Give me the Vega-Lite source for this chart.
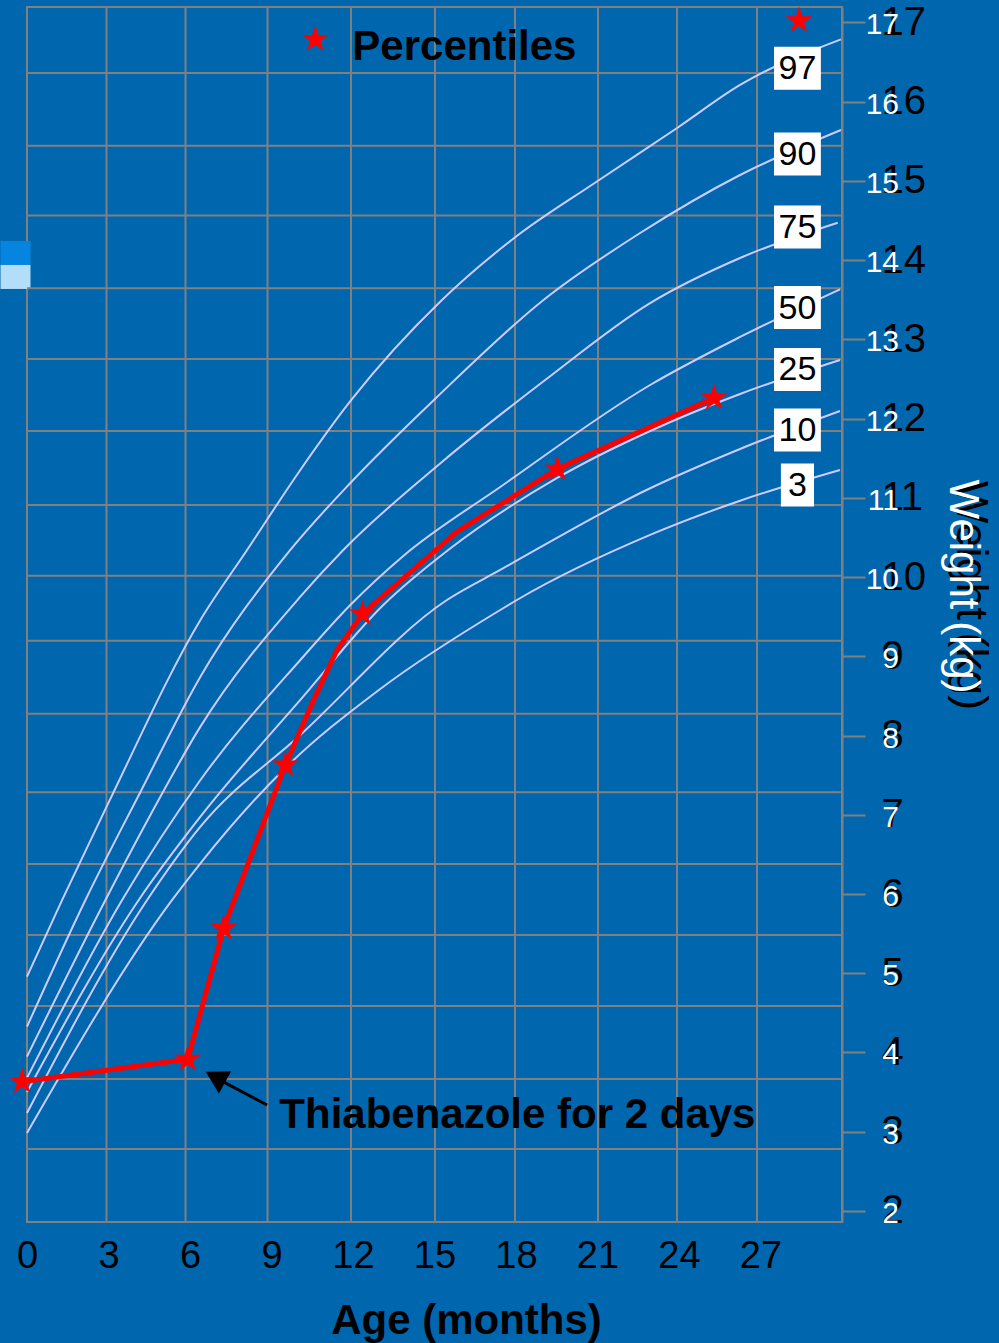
{
  "$schema": "https://vega.github.io/schema/vega-lite/v6.json",
  "width": 815,
  "height": 1215,
  "autosize": "none",
  "padding": {"left": 27, "top": 7, "right": 157, "bottom": 121},
  "background": "#0066ae",
  "config": {"font": "Liberation Sans", "view": {"stroke": "#808080", "strokeWidth": 2}},
  "datasets": {
    "panel": [
      {"part": "a", "m": -0.975, "m2": 0.129, "kg": 14.24, "kg2": 13.938},
      {"part": "b", "m": -0.975, "m2": 0.129, "kg": 13.938, "kg2": 13.635}
    ],
    "hgrid": [
      {"kg": 16.36}, {"kg": 15.443}, {"kg": 14.563}, {"kg": 13.644}, {"kg": 12.751}, {"kg": 11.843},
      {"kg": 10.909}, {"kg": 10.017}, {"kg": 9.197}, {"kg": 8.276}, {"kg": 7.284}, {"kg": 6.379},
      {"kg": 5.483}, {"kg": 4.587}, {"kg": 3.667}, {"kg": 2.783}
    ],
    "vgrid": [
      {"m": 2.926}, {"m": 5.834}, {"m": 8.853}, {"m": 11.926}, {"m": 15.018}, {"m": 17.963}, {"m": 21.018}, {"m": 23.926}, {"m": 26.871}
    ],
    "curves": [
      {"p": "97", "m": 0, "kg": 4.957}, {"p": "97", "m": 1.295, "kg": 5.925}, {"p": "97", "m": 2.961, "kg": 7.124},
      {"p": "97", "m": 6.383, "kg": 9.458}, {"p": "97", "m": 8.101, "kg": 10.341}, {"p": "97", "m": 10.061, "kg": 11.351},
      {"p": "97", "m": 11.937, "kg": 12.234}, {"p": "97", "m": 15.274, "kg": 13.496}, {"p": "97", "m": 17.934, "kg": 14.278},
      {"p": "97", "m": 20.951, "kg": 14.985}, {"p": "97", "m": 23.931, "kg": 15.666}, {"p": "97", "m": 26.248, "kg": 16.209},
      {"p": "97", "m": 29.963, "kg": 16.785},
      {"p": "90", "m": 0, "kg": 4.326}, {"p": "90", "m": 2.152, "kg": 5.925}, {"p": "90", "m": 4.175, "kg": 7.288},
      {"p": "90", "m": 6.383, "kg": 8.743}, {"p": "90", "m": 9.693, "kg": 10.341}, {"p": "90", "m": 11.937, "kg": 11.199},
      {"p": "90", "m": 15.054, "kg": 12.259}, {"p": "90", "m": 19.012, "kg": 13.496}, {"p": "90", "m": 22.569, "kg": 14.341},
      {"p": "90", "m": 26.248, "kg": 15.073}, {"p": "90", "m": 29.963, "kg": 15.641},
      {"p": "75", "m": 0, "kg": 3.948}, {"p": "75", "m": 2.888, "kg": 5.925}, {"p": "75", "m": 4.543, "kg": 6.997},
      {"p": "75", "m": 6.383, "kg": 8.112}, {"p": "75", "m": 10.061, "kg": 9.752}, {"p": "75", "m": 11.643, "kg": 10.341},
      {"p": "75", "m": 15.274, "kg": 11.452}, {"p": "75", "m": 19.074, "kg": 12.486}, {"p": "75", "m": 22.937, "kg": 13.457},
      {"p": "75", "m": 26.248, "kg": 14.026}, {"p": "75", "m": 29.842, "kg": 14.471},
      {"p": "50", "m": 0, "kg": 3.679}, {"p": "50", "m": 3.502, "kg": 5.925}, {"p": "50", "m": 6.383, "kg": 7.439},
      {"p": "50", "m": 10.061, "kg": 8.953}, {"p": "50", "m": 11.901, "kg": 9.647}, {"p": "50", "m": 13.851, "kg": 10.266},
      {"p": "50", "m": 17.419, "kg": 11.136}, {"p": "50", "m": 22.937, "kg": 12.423}, {"p": "50", "m": 26.248, "kg": 13.029},
      {"p": "50", "m": 29.926, "kg": 13.631},
      {"p": "25", "m": 0, "kg": 3.502}, {"p": "25", "m": 4.113, "kg": 5.925}, {"p": "25", "m": 6.383, "kg": 6.976},
      {"p": "25", "m": 10.061, "kg": 8.449}, {"p": "25", "m": 13.115, "kg": 9.647}, {"p": "25", "m": 15.506, "kg": 10.341},
      {"p": "25", "m": 19.516, "kg": 11.25}, {"p": "25", "m": 22.937, "kg": 11.843}, {"p": "25", "m": 26.248, "kg": 12.31},
      {"p": "25", "m": 29.926, "kg": 12.739},
      {"p": "10", "m": 0, "kg": 3.237}, {"p": "10", "m": 4.422, "kg": 5.925}, {"p": "10", "m": 6.383, "kg": 6.85},
      {"p": "10", "m": 10.061, "kg": 8.007}, {"p": "10", "m": 15.458, "kg": 9.71}, {"p": "10", "m": 17.419, "kg": 10.089},
      {"p": "10", "m": 22.937, "kg": 11.12}, {"p": "10", "m": 26.248, "kg": 11.616}, {"p": "10", "m": 29.926, "kg": 12.095},
      {"p": "3", "m": 0, "kg": 2.985}, {"p": "3", "m": 5.342, "kg": 5.925}, {"p": "3", "m": 6.383, "kg": 6.388},
      {"p": "3", "m": 9.51, "kg": 7.591}, {"p": "3", "m": 12.954, "kg": 8.575}, {"p": "3", "m": 17.419, "kg": 9.584},
      {"p": "3", "m": 18.033, "kg": 9.71}, {"p": "3", "m": 22.937, "kg": 10.531}, {"p": "3", "m": 26.248, "kg": 10.963},
      {"p": "3", "m": 29.926, "kg": 11.351}
    ],
    "patient": [
      {"m": -0.18, "kg": 3.632, "star": true},
      {"m": 5.915, "kg": 3.915, "star": true},
      {"m": 7.24, "kg": 5.568, "star": true},
      {"m": 9.51, "kg": 7.628, "star": true},
      {"m": 10.55, "kg": 8.449, "star": false},
      {"m": 11.41, "kg": 9.08, "star": false},
      {"m": 12.353, "kg": 9.534, "star": true},
      {"m": 15.826, "kg": 10.572, "star": false},
      {"m": 19.527, "kg": 11.363, "star": true},
      {"m": 25.29, "kg": 12.259, "star": true}
    ],
    "labels": [
      {"p": "97", "m": 28.36, "kg": 16.42},
      {"p": "90", "m": 28.36, "kg": 15.338},
      {"p": "75", "m": 28.36, "kg": 14.417},
      {"p": "50", "m": 28.36, "kg": 13.401},
      {"p": "25", "m": 28.36, "kg": 12.619},
      {"p": "10", "m": 28.36, "kg": 11.856},
      {"p": "3", "m": 28.36, "kg": 11.162}
    ],
    "ylabels": [
      {"kg": 2, "t": "2"}, {"kg": 3, "t": "3"}, {"kg": 4, "t": "4"}, {"kg": 5, "t": "5"},
      {"kg": 6, "t": "6"}, {"kg": 7, "t": "7"}, {"kg": 8, "t": "8"}, {"kg": 9, "t": "9"},
      {"kg": 10, "t": "10"}, {"kg": 11, "t": "11"}, {"kg": 12, "t": "12"}, {"kg": 13, "t": "13"},
      {"kg": 14, "t": "14"}, {"kg": 15, "t": "15"}, {"kg": 16, "t": "16"}, {"kg": 17, "t": "17"}
    ],
    "arrow": [{"m": 8.836, "kg": 3.338, "m2": 7.0, "kg2": 3.67}],
    "arrowhead": [{"m": 6.934, "kg": 3.691}],
    "notes": [
      {"m": 9.289, "kg": 3.048, "text": "Thiabenazole for 2 days"},
      {"m": 11.975, "kg": 16.524, "text": "Percentiles"}
    ],
    "legendstars": [{"m": 10.613, "kg": 16.785}, {"m": 28.418, "kg": 17.02}]
  },
  "layer": [
    {
      "data": {"name": "panel"},
      "mark": {"type": "rect"},
      "encoding": {
        "x": {"field": "m", "type": "quantitative", "scale": {"domain": [0, 30], "nice": false, "zero": false}, "axis": null},
        "x2": {"field": "m2"},
        "y": {"field": "kg", "type": "quantitative", "scale": {"domain": [1.861, 17.193], "nice": false, "zero": false}, "axis": null},
        "y2": {"field": "kg2"},
        "color": {"field": "part", "type": "nominal", "scale": {"domain": ["a", "b"], "range": ["#0585e0", "#b3defb"]}, "legend": null}
      }
    },
    {
      "data": {"name": "hgrid"},
      "mark": {"type": "rule", "color": "#808080", "strokeWidth": 2},
      "encoding": {
        "y": {"field": "kg", "type": "quantitative", "scale": {"domain": [1.861, 17.193], "nice": false, "zero": false}, "axis": null}
      }
    },
    {
      "data": {"name": "vgrid"},
      "mark": {"type": "rule", "color": "#808080", "strokeWidth": 2},
      "encoding": {
        "x": {"field": "m", "type": "quantitative", "scale": {"domain": [0, 30], "nice": false, "zero": false}, "axis": null}
      }
    },
    {
      "data": {"name": "curves"},
      "mark": {"type": "line", "interpolate": "monotone", "color": "#ccccff", "strokeWidth": 2},
      "encoding": {
        "x": {
          "field": "m", "type": "quantitative",
          "scale": {"domain": [0, 30], "nice": false, "zero": false},
          "axis": {
            "orient": "bottom",
            "values": [0, 3, 6, 9, 12, 15, 18, 21, 24, 27],
            "grid": false,
            "domain": false,
            "ticks": false,
            "labelColor": "#000000",
            "labelFontSize": 38,
            "labelPadding": 15,
            "labelFlush": false,
            "labelOverlap": false,
            "title": "Age (months)",
            "titleColor": "#000000",
            "titleFontSize": 42,
            "titleFontWeight": "bold",
            "titleX": 439,
            "titleY": 111,
            "titleAlign": "center",
            "titleBaseline": "alphabetic"
          }
        },
        "y": {
          "field": "kg", "type": "quantitative",
          "scale": {"domain": [1.861, 17.193], "nice": false, "zero": false},
          "axis": {
            "orient": "right",
            "values": [2, 3, 4, 5, 6, 7, 8, 9, 10, 11, 12, 13, 14, 15, 16, 17],
            "grid": false,
            "domainColor": "#808080",
            "domainWidth": 2,
            "tickColor": "#808080",
            "tickWidth": 2,
            "tickSize": 23,
            "labelColor": "#000000",
            "labelFontSize": 40,
            "labelPadding": 16,
            "labelAlign": "left",
            "labelBaseline": "middle",
            "labelFlush": false,
            "labelOverlap": false,
            "title": "Weight (kg)",
            "titleColor": "#000000",
            "titleFontSize": 45,
            "titleFontWeight": "normal",
            "titleAngle": 90,
            "titleX": 114,
            "titleY": 588,
            "titleAlign": "center",
            "titleBaseline": "alphabetic"
          }
        },
        "detail": {"field": "p", "type": "nominal"}
      }
    },
    {
      "data": {"name": "ylabels"},
      "mark": {"type": "text", "color": "#ffffff", "fontSize": 30, "align": "right", "baseline": "middle", "dx": 57, "dy": 3},
      "encoding": {
        "x": {"datum": 30, "type": "quantitative", "scale": {"domain": [0, 30], "nice": false, "zero": false}, "axis": null},
        "y": {"field": "kg", "type": "quantitative", "scale": {"domain": [1.861, 17.193], "nice": false, "zero": false}, "axis": null},
        "text": {"field": "t", "type": "nominal"}
      }
    },
    {
      "data": {"values": [{"t": "Weight (kg)"}]},
      "mark": {"type": "text", "color": "#ffffff", "fontSize": 42, "align": "center", "baseline": "alphabetic", "angle": 90, "dx": 0, "dy": -108},
      "encoding": {
        "x": {"datum": 30, "type": "quantitative", "scale": {"domain": [0, 30], "nice": false, "zero": false}, "axis": null},
        "y": {"datum": 9.88, "type": "quantitative", "scale": {"domain": [1.861, 17.193], "nice": false, "zero": false}, "axis": null},
        "text": {"field": "t", "type": "nominal"}
      }
    },
    {
      "data": {"name": "patient"},
      "mark": {"type": "line", "color": "#ff0000", "strokeWidth": 5},
      "encoding": {
        "x": {"field": "m", "type": "quantitative", "scale": {"domain": [0, 30], "nice": false, "zero": false}, "axis": null},
        "y": {"field": "kg", "type": "quantitative", "scale": {"domain": [1.861, 17.193], "nice": false, "zero": false}, "axis": null}
      }
    },
    {
      "data": {"name": "patient"},
      "transform": [{"filter": "datum.star"}],
      "mark": {"type": "point", "shape": "M0,-1L0.2245,-0.309L0.951,-0.309L0.363,0.118L0.588,0.809L0,0.382L-0.588,0.809L-0.363,0.118L-0.951,-0.309L-0.2245,-0.309Z", "filled": true, "color": "#ff0000", "size": 800, "opacity": 1},
      "encoding": {
        "x": {"field": "m", "type": "quantitative", "scale": {"domain": [0, 30], "nice": false, "zero": false}, "axis": null},
        "y": {"field": "kg", "type": "quantitative", "scale": {"domain": [1.861, 17.193], "nice": false, "zero": false}, "axis": null}
      }
    },
    {
      "data": {"name": "labels"},
      "transform": [{"filter": "datum.p != '3'"}],
      "mark": {"type": "point", "shape": "M-1.09,-1L1.09,-1L1.09,1L-1.09,1Z", "filled": true, "color": "#ffffff", "size": 1849, "opacity": 1},
      "encoding": {
        "x": {"field": "m", "type": "quantitative", "scale": {"domain": [0, 30], "nice": false, "zero": false}, "axis": null},
        "y": {"field": "kg", "type": "quantitative", "scale": {"domain": [1.861, 17.193], "nice": false, "zero": false}, "axis": null}
      }
    },
    {
      "data": {"name": "labels"},
      "transform": [{"filter": "datum.p == '3'"}],
      "mark": {"type": "point", "shape": "M-0.77,-1L0.77,-1L0.77,1L-0.77,1Z", "filled": true, "color": "#ffffff", "size": 1849, "opacity": 1},
      "encoding": {
        "x": {"field": "m", "type": "quantitative", "scale": {"domain": [0, 30], "nice": false, "zero": false}, "axis": null},
        "y": {"field": "kg", "type": "quantitative", "scale": {"domain": [1.861, 17.193], "nice": false, "zero": false}, "axis": null}
      }
    },
    {
      "data": {"name": "labels"},
      "mark": {"type": "text", "color": "#000000", "fontSize": 34, "align": "center", "baseline": "middle", "dy": 1},
      "encoding": {
        "x": {"field": "m", "type": "quantitative", "scale": {"domain": [0, 30], "nice": false, "zero": false}, "axis": null},
        "y": {"field": "kg", "type": "quantitative", "scale": {"domain": [1.861, 17.193], "nice": false, "zero": false}, "axis": null},
        "text": {"field": "p", "type": "nominal"}
      }
    },
    {
      "data": {"name": "arrow"},
      "mark": {"type": "rule", "color": "#000000", "strokeWidth": 3},
      "encoding": {
        "x": {"field": "m", "type": "quantitative", "scale": {"domain": [0, 30], "nice": false, "zero": false}, "axis": null},
        "y": {"field": "kg", "type": "quantitative", "scale": {"domain": [1.861, 17.193], "nice": false, "zero": false}, "axis": null},
        "x2": {"field": "m2"},
        "y2": {"field": "kg2"}
      }
    },
    {
      "data": {"name": "arrowhead"},
      "mark": {"type": "point", "shape": "triangle-up", "filled": true, "color": "#000000", "size": 650, "angle": 299, "opacity": 1},
      "encoding": {
        "x": {"field": "m", "type": "quantitative", "scale": {"domain": [0, 30], "nice": false, "zero": false}, "axis": null},
        "y": {"field": "kg", "type": "quantitative", "scale": {"domain": [1.861, 17.193], "nice": false, "zero": false}, "axis": null}
      }
    },
    {
      "data": {"name": "notes"},
      "mark": {"type": "text", "color": "#000000", "fontSize": 42, "fontWeight": "bold", "align": "left", "baseline": "alphabetic"},
      "encoding": {
        "x": {"field": "m", "type": "quantitative", "scale": {"domain": [0, 30], "nice": false, "zero": false}, "axis": null},
        "y": {"field": "kg", "type": "quantitative", "scale": {"domain": [1.861, 17.193], "nice": false, "zero": false}, "axis": null},
        "text": {"field": "text", "type": "nominal"}
      }
    },
    {
      "data": {"name": "legendstars"},
      "mark": {"type": "point", "shape": "M0,-1L0.2245,-0.309L0.951,-0.309L0.363,0.118L0.588,0.809L0,0.382L-0.588,0.809L-0.363,0.118L-0.951,-0.309L-0.2245,-0.309Z", "filled": true, "color": "#ff0000", "size": 800, "opacity": 1},
      "encoding": {
        "x": {"field": "m", "type": "quantitative", "scale": {"domain": [0, 30], "nice": false, "zero": false}, "axis": null},
        "y": {"field": "kg", "type": "quantitative", "scale": {"domain": [1.861, 17.193], "nice": false, "zero": false}, "axis": null}
      }
    }
  ],
  "resolve": {"axis": {"x": "independent", "y": "independent"}}
}
